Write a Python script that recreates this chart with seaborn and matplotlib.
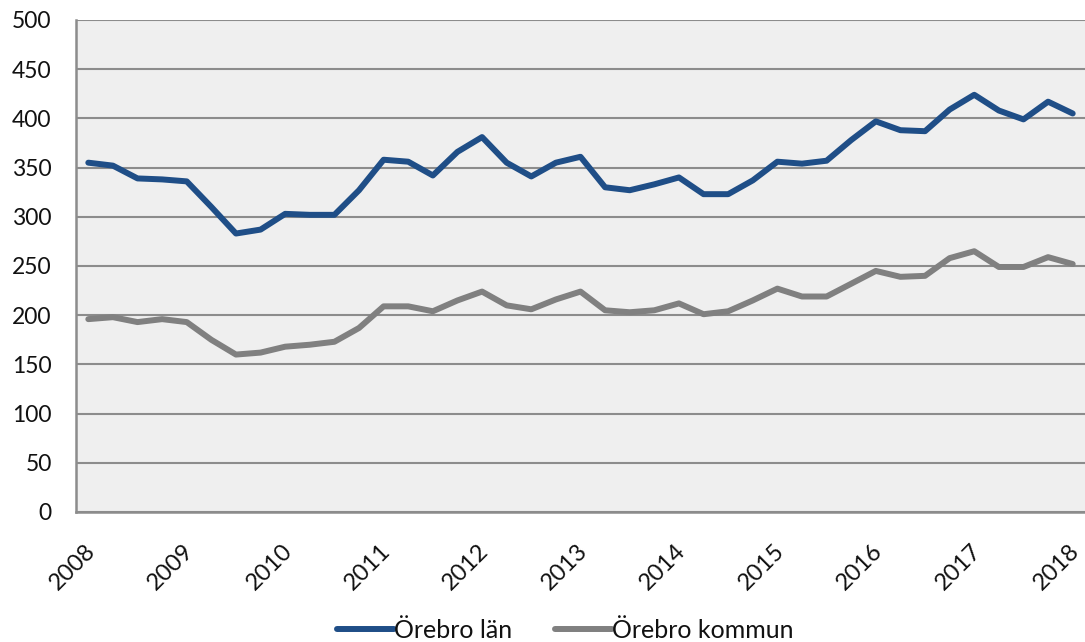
import numpy as np
import pandas as pd
import matplotlib
matplotlib.use("Agg")
import matplotlib.pyplot as plt
import matplotlib.transforms as mtransforms
import seaborn as sns
from matplotlib.ticker import FixedLocator, NullFormatter
from matplotlib.lines import Line2D

# ---- data (quarterly, 2008 Q1 .. 2018 Q1) ----
years = [str(y) for y in range(2008, 2019)]
lan = [355, 352, 339, 338, 336, 310, 283, 287, 303, 302,
       302, 327, 358, 356, 342, 366, 381, 355, 341, 355,
       361, 330, 327, 333, 340, 323, 323, 337, 356, 354,
       357, 378, 397, 388, 387, 409, 424, 408, 399, 417,
       405]
kommun = [196, 198, 193, 196, 193, 175, 160, 162, 168, 170,
          173, 187, 209, 209, 204, 215, 224, 210, 206, 216,
          224, 205, 203, 205, 212, 201, 204, 215, 227, 219,
          219, 232, 245, 239, 240, 258, 265, 249, 249, 259,
          252]
series_names = ["Örebro län", "Örebro kommun"]
colors = ["#1F4E87", "#808080"]
yticks = list(range(0, 501, 50))

n = len(lan)
df = pd.DataFrame({
    "q": list(range(n)) * 2,
    "value": lan + kommun,
    "serie": [series_names[0]] * n + [series_names[1]] * n,
})

sns.set_style("white")
plt.rcParams["font.family"] = ["Lato", "DejaVu Sans"]

fig = plt.figure(figsize=(10.85, 6.42), dpi=100)
ax = fig.add_axes([76 / 1085, 1 - 512 / 642, 1 - 76 / 1085, (512 - 20) / 642])
ax.set_facecolor("#efefef")

sns.lineplot(data=df, x="q", y="value", hue="serie", palette=colors,
             linewidth=4.3, ax=ax, legend=False)

ax.set_xlim(-0.5, n - 0.5)
ax.set_ylim(0, 500)
ax.set_xlabel("")
ax.set_ylabel("")

grid_c = "#8c8c8c"
ax.set_yticks(yticks)
ax.set_yticklabels([str(v) for v in yticks])
ax.yaxis.grid(True, color=grid_c, linewidth=1.5)
ax.set_axisbelow(True)

ax.set_xticks(list(range(0, n, 4)))
ax.set_xticklabels(years, rotation=45, ha="right", rotation_mode="anchor")
ax.xaxis.set_minor_locator(FixedLocator(list(np.arange(-0.5, n, 1.0))))
ax.xaxis.set_minor_formatter(NullFormatter())

ax.tick_params(axis="x", which="major", length=0, pad=20, labelsize=17, labelcolor="#111111")
ax.tick_params(axis="x", which="minor", length=7, width=1.5, color=grid_c)
ax.tick_params(axis="y", length=7, width=1.5, color=grid_c, labelsize=16.5, labelcolor="#111111", pad=10.5)

shift = mtransforms.ScaledTranslation(-4 / 100, 0, fig.dpi_scale_trans)
for lbl in ax.get_xticklabels():
    lbl.set_transform(lbl.get_transform() + shift)

for s in ["top", "right"]:
    ax.spines[s].set_visible(False)
for s in ["left", "bottom"]:
    ax.spines[s].set_color(grid_c)
    ax.spines[s].set_linewidth(1.8)

handles = [Line2D([0], [0], color=c, linewidth=4.3, solid_capstyle="round") for c in colors]
fig.legend(handles, series_names, loc="center", bbox_to_anchor=(0.521, 0.018),
           ncol=2, frameon=False, fontsize=18, handlelength=2.3, handletextpad=0.0,
           columnspacing=1.7, labelcolor="#111111")

fig.savefig("out.png", dpi=100)
